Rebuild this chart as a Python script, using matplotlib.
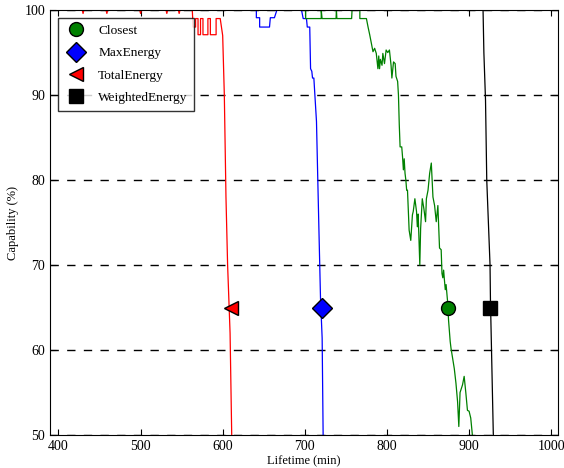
import numpy as np
import matplotlib
matplotlib.use('Agg')
import matplotlib.pyplot as plt

plt.rcParams['font.family'] = 'serif'
plt.rcParams['font.serif'] = ['Liberation Serif', 'DejaVu Serif']

# lifetime (min) vs capability (%) for each strategy
red_x = [390, 429, 430, 431, 458, 459, 460, 499, 500, 501, 531, 532, 533, 546, 547, 548,
         563, 564, 567, 567, 570, 570, 573, 573, 576, 576, 582, 582, 585, 585, 592, 592, 597,
         600, 602, 604, 606, 609, 611]
red_y = [100, 100, 99.6, 100, 100, 99.6, 100, 100, 99.6, 100, 100, 99.6, 100, 100, 99.6, 100,
         100, 98, 98, 99, 99, 97.1, 97.1, 99, 99, 97.1, 97.1, 99, 99, 97.1, 97.1, 99, 99,
         97, 90, 78, 70, 62, 50]

blue_x = [390, 641, 641, 645, 645, 657, 658, 663, 666, 696, 698, 702, 703, 706, 707,
          708.5, 709.4, 711, 714.2, 715.8, 717.4, 719.1, 721.1, 722.3]
blue_y = [100, 100, 99.1, 99.1, 98, 98, 99.1, 99.1, 100, 100, 99, 99, 98, 98, 93.1,
          92.8, 92, 92, 86.9, 80, 73.2, 66.1, 61.4, 50]

green_x = [390, 701, 701, 720, 720, 721, 738, 738.5, 739, 757, 757.5, 767, 767, 775,
           777, 779, 781, 783, 785, 787, 789, 790, 791, 792, 794, 795, 797, 799, 801, 803,
           805, 806, 808, 810, 811, 813, 814, 815, 816, 818, 819, 820, 821, 822, 823, 824,
           825, 827, 829, 831, 832, 834, 836, 837, 838, 840, 841, 843, 845, 847, 848, 850,
           852, 854, 856, 858, 860, 862, 864, 866, 867, 868, 869, 870, 871, 872, 874, 875,
           877, 878, 880, 882, 884, 886, 887.5, 889, 892, 894, 896, 898, 900, 902, 904]
green_y = [100, 100, 99, 99, 100, 99, 99, 100, 99, 99, 100, 100, 99, 99,
           98, 97.1, 96.1, 95.1, 95.5, 94.9, 93.1, 94.6, 93.1, 94.2, 93.5, 94.9, 93.7, 95.3, 95.0, 95.3,
           93.5, 92.0, 93.9, 93.7, 92.2, 91.6, 90.0, 86.5, 83.9, 83.9, 82.7, 81.2, 82.5, 80.8, 80.0, 78.8,
           78.8, 74.1, 72.9, 75.9, 76.3, 77.8, 76.3, 74.5, 76.0, 70.0, 74.3, 77.8, 76.6, 75.1, 77.8, 78.8,
           80.8, 82.0, 78.0, 77.0, 75.1, 77.0, 72.0, 71.8, 69.0, 68.5, 69.4, 68.2, 67.1, 67.7, 65.5, 63.5,
           61.0, 60.2, 59.0, 57.8, 56.1, 53.9, 51.0, 55.0, 55.9, 56.9, 55.0, 52.9, 52.8, 52.0, 50]

black_x = [390, 917, 918, 920, 921.5, 925.5, 926, 929.5]
black_y = [100, 100, 95, 89.4, 80, 70, 65.9, 50]

# marker positions at 65 % capability
labels = ['Closest', 'MaxEnergy', 'TotalEnergy', 'WeightedEnergy']
mark_x = [874, 721, 610, 926]
mark_y = [65, 65, 65, 65]

fig = plt.figure(figsize=(5.64, 4.68), dpi=100)
ax = fig.add_axes([0.089, 0.0705, 0.9, 0.908])

ax.plot(red_x, red_y, color='red', lw=0.9)
ax.plot(blue_x, blue_y, color='blue', lw=0.9)
ax.plot(green_x, green_y, color='green', lw=0.9)
ax.plot(black_x, black_y, color='black', lw=0.9)

ax.plot(mark_x[0], mark_y[0], 'o', color='green', mec='black', ms=10, label=labels[0])
ax.plot(mark_x[1], mark_y[1], 'D', color='blue', mec='black', ms=10.5, label=labels[1])
ax.plot(mark_x[2], mark_y[2], '<', color='red', mec='black', ms=10.5, label=labels[2])
ax.plot(mark_x[3], mark_y[3], 's', color='black', mec='black', ms=10, label=labels[3])

ax.yaxis.grid(True, linestyle=(0, (6, 6)), color='black', lw=1)
ax.set_axisbelow(True)

ax.set_xlim(390, 1008)
ax.set_ylim(50, 100)
ax.set_xticks([400, 500, 600, 700, 800, 900, 1000])
ax.set_yticks([50, 60, 70, 80, 90, 100])
ax.tick_params(direction='in', top=True, right=True, labelsize=10, length=4)
ax.set_xlabel('Lifetime (min)', fontsize=9, labelpad=2)
ax.set_ylabel('Capability (%)', fontsize=9)

leg = ax.legend(loc='upper left', numpoints=1, fontsize=9.6, fancybox=False,
                edgecolor='black', borderpad=0.5, labelspacing=0.75, handletextpad=0.9,
                handlelength=1.6, borderaxespad=0.6)
leg.get_frame().set_linewidth(1)

fig.savefig('out.png', dpi=100)
